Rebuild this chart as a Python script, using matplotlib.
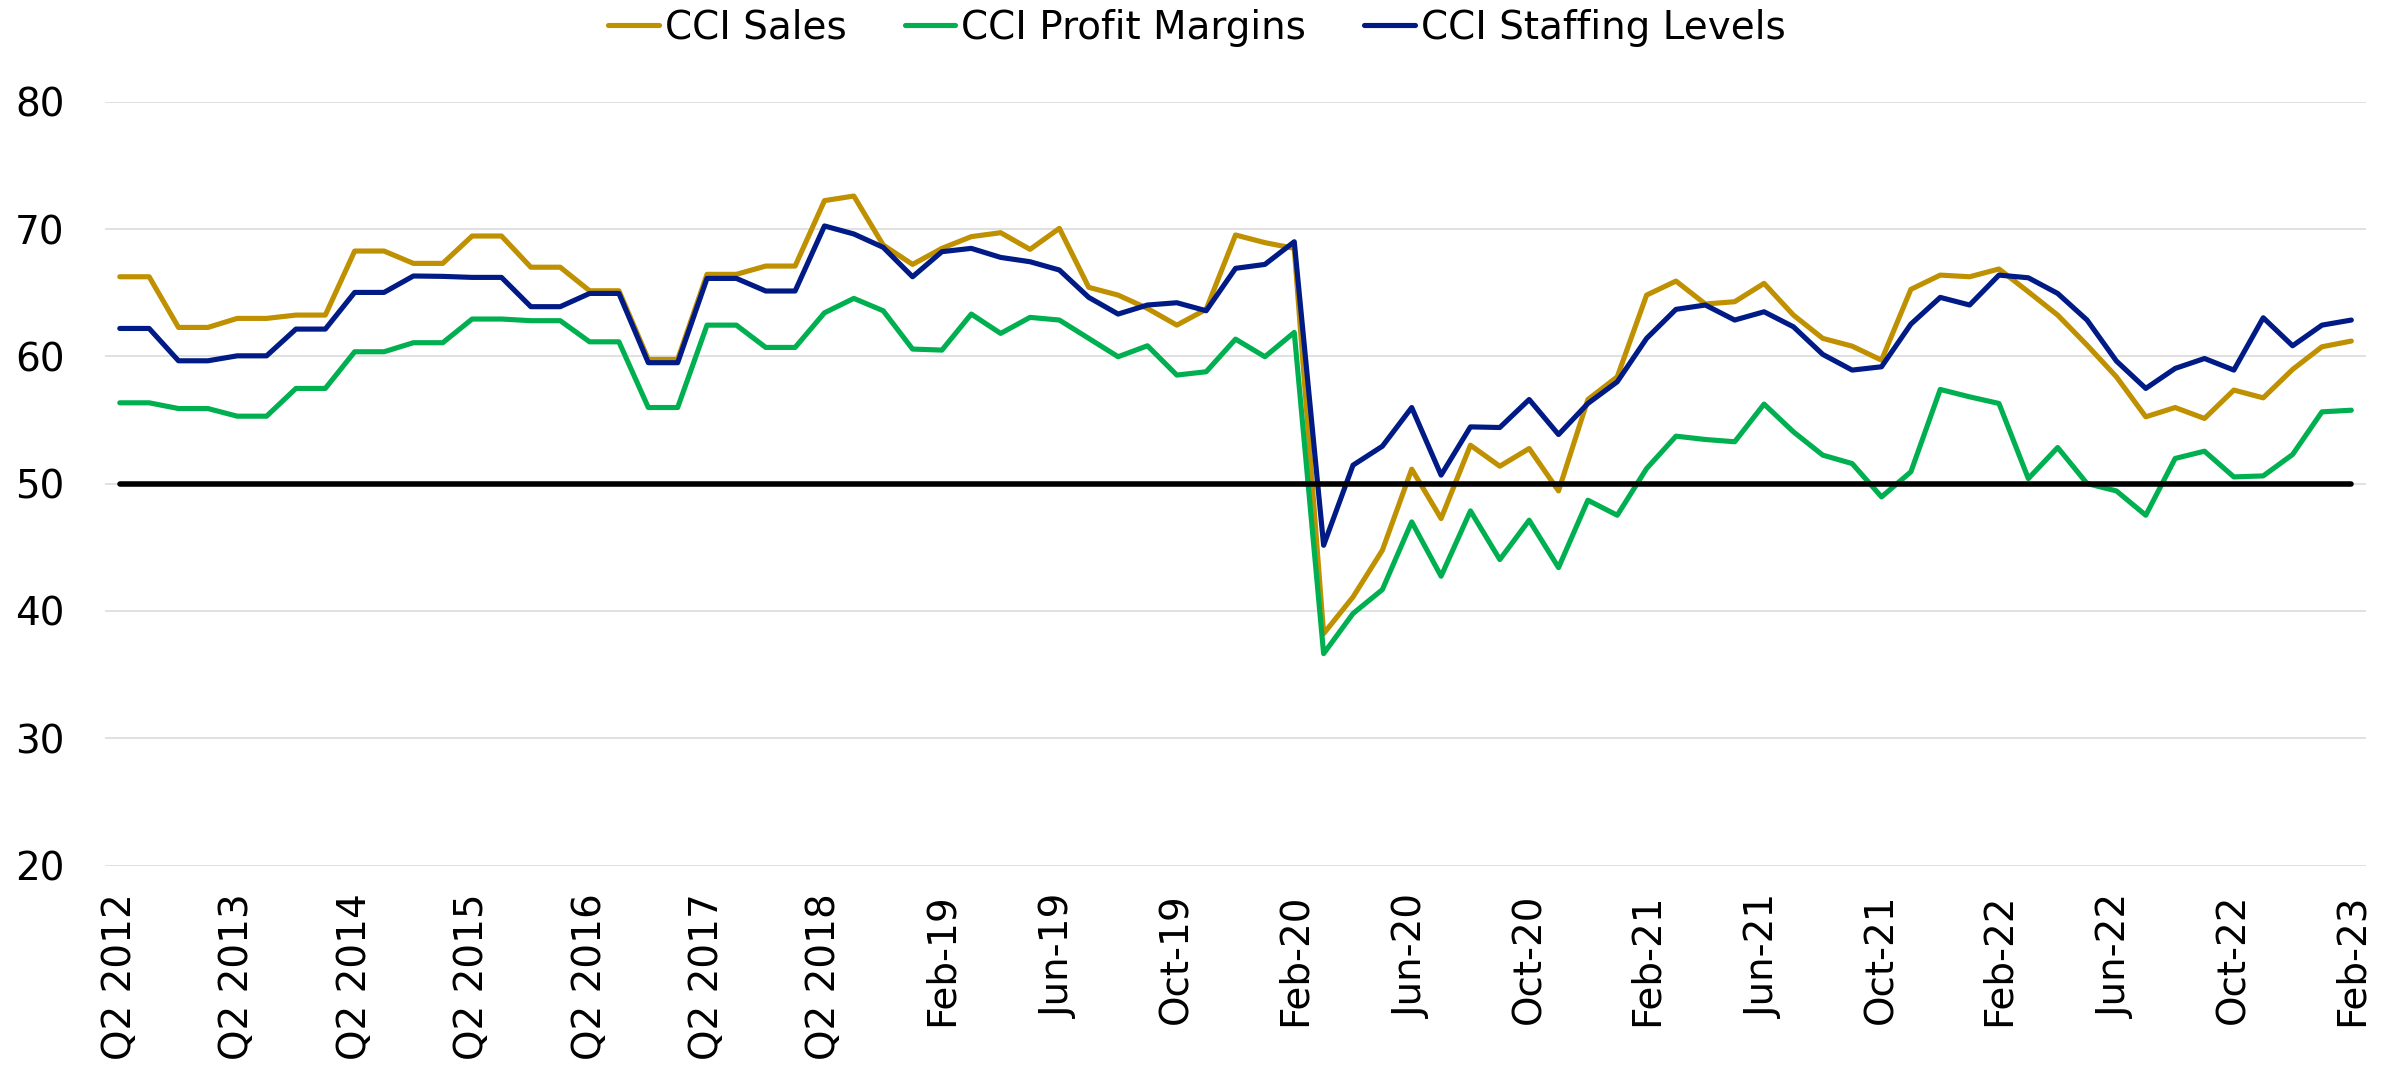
import matplotlib
matplotlib.use("Agg")
import matplotlib.pyplot as plt

categories = [
    "Q2 2012", "Q3 2012", "Q4 2012", "Q1 2013", "Q2 2013", "Q3 2013", "Q4 2013", "Q1 2014",
    "Q2 2014", "Q3 2014", "Q4 2014", "Q1 2015", "Q2 2015", "Q3 2015", "Q4 2015", "Q1 2016",
    "Q2 2016", "Q3 2016", "Q4 2016", "Q1 2017", "Q2 2017", "Q3 2017", "Q4 2017", "Q1 2018",
    "Q2 2018", "Q3 2018", "Q4 2018", "Jan-19",
    "Feb-19", "Mar-19", "Apr-19", "May-19", "Jun-19", "Jul-19", "Aug-19", "Sep-19",
    "Oct-19", "Nov-19", "Dec-19", "Jan-20", "Feb-20", "Mar-20", "Apr-20", "May-20",
    "Jun-20", "Jul-20", "Aug-20", "Sep-20", "Oct-20", "Nov-20", "Dec-20", "Jan-21",
    "Feb-21", "Mar-21", "Apr-21", "May-21", "Jun-21", "Jul-21", "Aug-21", "Sep-21",
    "Oct-21", "Nov-21", "Dec-21", "Jan-22", "Feb-22", "Mar-22", "Apr-22", "May-22",
    "Jun-22", "Jul-22", "Aug-22", "Sep-22", "Oct-22", "Nov-22", "Dec-22", "Jan-23",
    "Feb-23",
]

sales = [
    66.25, 66.25, 62.27, 62.27, 62.98, 62.98, 63.24, 63.24, 68.27, 68.27,
    67.30, 67.30, 69.45, 69.45, 67.00, 67.00, 65.15, 65.15, 59.76, 59.76,
    66.44, 66.44, 67.09, 67.09, 72.23, 72.59, 68.74, 67.22, 68.48, 69.40,
    69.71, 68.40, 70.05, 65.42, 64.81, 63.76, 62.45, 63.69, 69.53, 68.93,
    68.48, 38.22, 41.10, 44.77, 51.14, 47.26, 53.02, 51.37, 52.76, 49.43,
    56.61, 58.39, 64.81, 65.91, 64.11, 64.29, 65.73, 63.24, 61.41, 60.80,
    59.70, 65.26, 66.38, 66.25, 66.86, 65.07, 63.24, 60.88, 58.39, 55.25,
    55.98, 55.12, 57.35, 56.74, 58.97, 60.75, 61.20,
]

profit_margins = [
    56.35, 56.35, 55.90, 55.90, 55.30, 55.30, 57.48, 57.48, 60.36, 60.36,
    61.07, 61.07, 62.93, 62.93, 62.80, 62.80, 61.14, 61.14, 55.98, 55.98,
    62.45, 62.45, 60.70, 60.70, 63.42, 64.55, 63.58, 60.57, 60.49, 63.32,
    61.80, 63.06, 62.85, 61.41, 59.97, 60.83, 58.53, 58.79, 61.35, 59.97,
    61.88, 36.65, 39.80, 41.68, 47.00, 42.73, 47.86, 44.04, 47.13, 43.41,
    48.70, 47.52, 51.19, 53.73, 53.47, 53.29, 56.25, 54.07, 52.24, 51.58,
    48.96, 50.93, 57.40, 56.82, 56.30, 50.40, 52.84, 50.01, 49.43, 47.52,
    51.98, 52.55, 50.53, 50.61, 52.29, 55.64, 55.77,
]

staffing_levels = [
    62.19, 62.19, 59.65, 59.65, 60.04, 60.04, 62.14, 62.14, 65.02, 65.02,
    66.31, 66.28, 66.20, 66.20, 63.90, 63.90, 64.94, 64.94, 59.50, 59.50,
    66.12, 66.12, 65.13, 65.13, 70.24, 69.61, 68.56, 66.25, 68.22, 68.48,
    67.77, 67.43, 66.78, 64.63, 63.32, 64.03, 64.21, 63.58, 66.91, 67.22,
    69.00, 45.16, 51.45, 52.94, 55.98, 50.67, 54.46, 54.41, 56.61, 53.86,
    56.30, 58.00, 61.41, 63.69, 64.03, 62.85, 63.50, 62.32, 60.15, 58.92,
    59.18, 62.53, 64.63, 64.03, 66.38, 66.17, 64.94, 62.85, 59.63, 57.48,
    59.05, 59.83, 58.92, 63.03, 60.83, 62.45, 62.85,
]

series_names = ["CCI Sales", "CCI Profit Margins", "CCI Staffing Levels"]
threshold = 50
y_ticks = [20, 30, 40, 50, 60, 70, 80]

colors = ["#BF9000", "#00B050", "#001A86"]

plt.rcParams["font.family"] = ["DejaVu Sans"]

fig = plt.figure(figsize=(23.94, 10.76), dpi=100)
ax = fig.add_axes([0.0439, 0.1955, 0.9444, 0.71])

x = list(range(len(categories)))
lw = 3.7
for vals, name, c in zip([sales, profit_margins, staffing_levels], series_names, colors):
    ax.plot(x, vals, color=c, lw=lw, label=name, solid_joinstyle="round",
            solid_capstyle="round", zorder=3)

ax.hlines(threshold, x[0], x[-1], color="black", lw=4.0, zorder=4, capstyle="round")

ax.set_xlim(-0.5, len(categories) - 0.5)
ax.set_ylim(20, 80)
ax.set_yticks(y_ticks)
ax.set_yticklabels([str(v) for v in y_ticks])
ax.yaxis.grid(True, color="#D9D9D9", lw=1.1, zorder=0)
ax.set_axisbelow(True)

ax.set_xticks(x[::4])
ax.set_xticklabels(categories[::4], rotation=90)

for s in ax.spines.values():
    s.set_visible(False)
ax.tick_params(axis="y", length=0, pad=29, labelsize=28)
ax.tick_params(axis="x", length=0, pad=20, labelsize=28)

fig.legend(loc="center", bbox_to_anchor=(0.5, 0.974), ncol=3, frameon=False,
           fontsize=28, handlelength=1.3, handletextpad=0.15, columnspacing=1.5)

fig.savefig("out.png", dpi=100)
